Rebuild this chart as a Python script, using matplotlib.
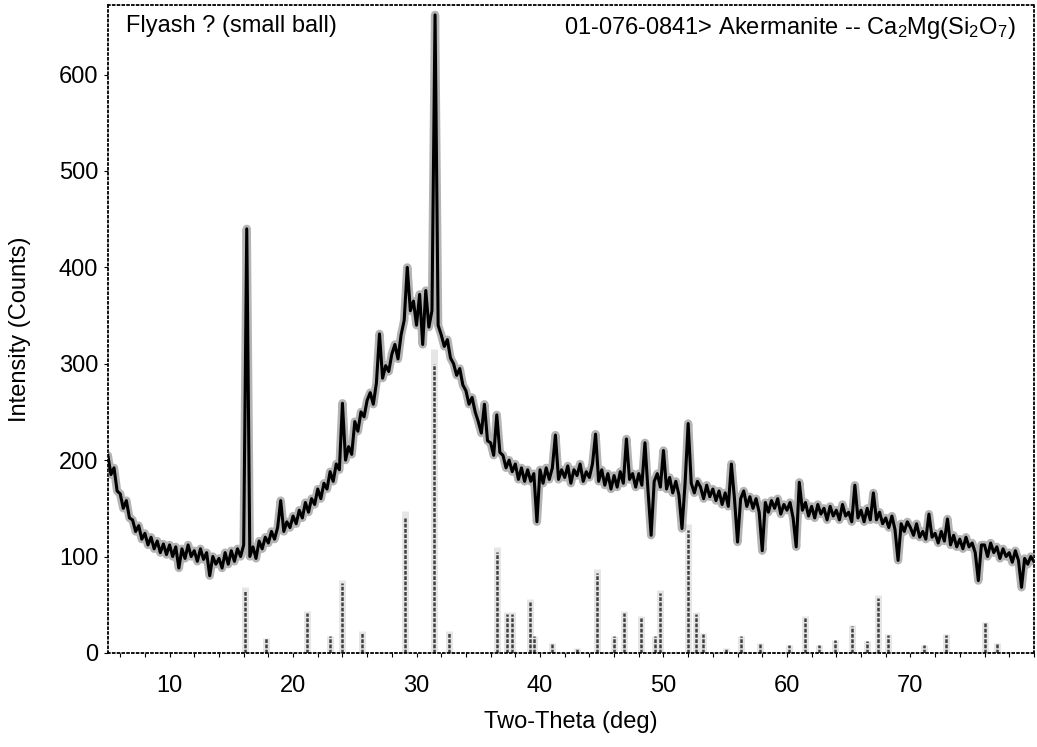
import numpy as np
import matplotlib.pyplot as plt
from matplotlib.ticker import MultipleLocator, FixedLocator

plt.rcParams['font.family'] = ['Liberation Sans', 'DejaVu Sans']
plt.rcParams['mathtext.fontset'] = 'custom'
plt.rcParams['mathtext.rm'] = 'Liberation Sans'
plt.rcParams['mathtext.it'] = 'Liberation Sans'

intensity = [
    205, 185, 192, 168,   # 5
    165, 150, 158, 140,   # 6
    138, 126, 132, 118,   # 7
    124, 112, 120, 108,   # 8
    116, 104, 113, 102,   # 9
    112, 100, 110, 88,    # 10
    108, 98, 112, 100,    # 11
    106, 95, 108, 97,     # 12
    104, 80, 100, 92,     # 13
    98, 88, 104, 92,      # 14
    106, 95, 108, 100,    # 15
    112, 440, 100, 110,   # 16
    98, 116, 108, 120,    # 17
    114, 126, 118, 130,   # 18
    158, 126, 136, 130,   # 19
    142, 134, 148, 140,   # 20
    156, 146, 160, 154,   # 21
    170, 160, 176, 170,   # 22
    188, 178, 196, 190,   # 23
    259, 200, 214, 206,   # 24
    240, 230, 250, 245,   # 25
    262, 270, 258, 280,   # 26
    331, 285, 298, 292,   # 27
    310, 320, 305, 330,   # 28
    345, 400, 355, 365,   # 29
    340, 372, 320, 376,   # 30
    338, 355, 662, 340,   # 31
    330, 318, 325, 306,   # 32
    300, 288, 295, 278,   # 33
    272, 258, 265, 250,   # 34
    240, 228, 258, 220,   # 35
    218, 205, 247, 208,   # 36
    205, 192, 200, 188,   # 37
    196, 180, 192, 178,   # 38
    190, 178, 186, 136,   # 39
    190, 176, 192, 180,   # 40
    192, 226, 180, 190,   # 41
    182, 194, 176, 190,   # 42
    184, 196, 178, 188,   # 43
    182, 196, 227, 178,   # 44
    190, 174, 186, 170,   # 45
    184, 172, 188, 176,   # 46
    222, 180, 186, 172,   # 47
    186, 174, 218, 168,   # 48
    122, 178, 186, 172,   # 49
    210, 170, 182, 166,   # 50
    178, 164, 129, 176,   # 51
    238, 176, 166, 178,   # 52
    172, 160, 174, 162,   # 53
    170, 158, 168, 154,   # 54
    166, 152, 196, 160,   # 55
    115, 160, 168, 152,   # 56
    162, 150, 160, 146,   # 57
    106, 156, 146, 158,   # 58
    150, 160, 144, 154,   # 59
    148, 156, 140, 110,   # 60
    177, 148, 156, 142,   # 61
    152, 140, 154, 144,   # 62
    150, 138, 152, 142,   # 63
    148, 138, 154, 142,   # 64
    146, 136, 174, 140,   # 65
    148, 136, 150, 138,   # 66
    166, 138, 146, 134,   # 67
    140, 130, 142, 128,   # 68
    96, 134, 126, 136,    # 69
    130, 122, 134, 120,   # 70
    126, 118, 144, 120,   # 71
    124, 114, 126, 116,   # 72
    139, 112, 122, 110,   # 73
    118, 108, 120, 110,   # 74
    114, 104, 75, 112,    # 75
    112, 100, 114, 104,   # 76
    110, 98, 108, 100,    # 77
    104, 94, 106, 96,     # 78
    68, 98, 92, 100,      # 79
    95,                   # 80
]
two_theta = np.linspace(5, 80, len(intensity))

# reference card 01-076-0841 (akermanite) stick lines
stick_pos = [16.1, 17.8, 21.1, 23.0, 24.0, 25.6, 29.05, 31.4, 32.6, 36.5,
             37.3, 37.7, 39.2, 39.5, 41.0, 43.0, 44.6, 46.0, 46.8, 48.2,
             49.3, 49.7, 52.0, 52.6, 53.2, 55.1, 56.3, 57.8, 60.2, 61.5,
             62.6, 63.9, 65.3, 66.5, 67.4, 68.2, 71.1, 72.9, 76.0, 77.0]
stick_int = [65, 15, 41, 17, 72, 22, 140, 300, 22, 105,
             40, 40, 53, 17, 10, 5, 83, 17, 41, 36,
             17, 62, 127, 40, 20, 5, 17, 10, 8, 36,
             8, 13, 28, 12, 57, 19, 8, 19, 31, 10]

x_ticks = [10, 20, 30, 40, 50, 60, 70]

fig = plt.figure(figsize=(10.37, 7.47), dpi=100)
ax = fig.add_axes([0.104, 0.126, 0.893, 0.867])

ax.vlines(stick_pos, 0, np.array(stick_int) * 1.05, color='0.9', lw=5, zorder=1)
ax.vlines(stick_pos, 0, stick_int, color='0.25', lw=1.8, linestyle=(0, (1.5, 0.6)),
          zorder=2)

ax.plot(two_theta, intensity, color='0.35', lw=6, alpha=0.45, zorder=3,
        solid_joinstyle='round', solid_capstyle='round')
ax.plot(two_theta, intensity, color='black', lw=2.2, zorder=4,
        solid_joinstyle='round')

ax.set_xlim(5, 80)
ax.set_ylim(0, 672)
ax.xaxis.set_major_locator(FixedLocator(x_ticks))
ax.xaxis.set_minor_locator(MultipleLocator(2))
ax.yaxis.set_major_locator(MultipleLocator(100))
ax.tick_params(which='both', direction='out', length=3, width=0.8,
               labelsize=17, top=False, right=False)
ax.tick_params(axis='x', pad=13)
ax.tick_params(axis='y', pad=4)

for s in ax.spines.values():
    s.set_linestyle(':')
    s.set_linewidth(1.3)
    s.set_color('black')

ax.set_xlabel('Two-Theta (deg)', fontsize=17, labelpad=10)
ax.set_ylabel('Intensity (Counts)', fontsize=17, labelpad=20)

ax.text(0.02, 0.985, 'Flyash ? (small ball)', transform=ax.transAxes,
        fontsize=17, ha='left', va='top')
ax.text(0.98, 0.985, r'01-076-0841> Akermanite -- Ca$_2$Mg(Si$_2$O$_7$)',
        transform=ax.transAxes, fontsize=17, ha='right', va='top')

fig.savefig('out.png', dpi=100)
